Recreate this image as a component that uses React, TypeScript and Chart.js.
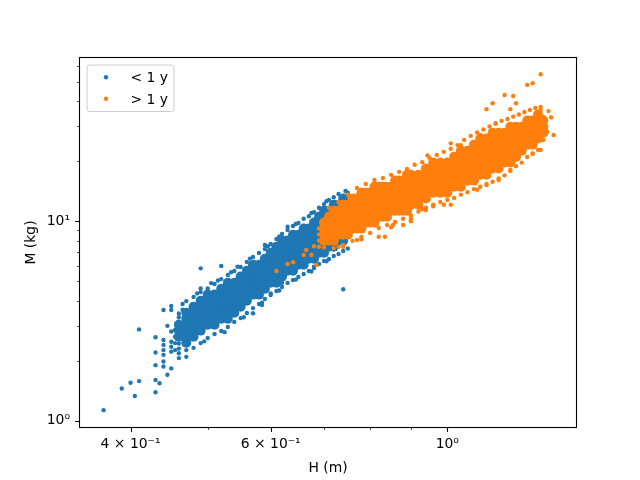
import React, { useEffect, useRef } from "react";
import { Chart, registerables } from "chart.js";

Chart.register(...registerables);

const FONT = "'DejaVu Sans', sans-serif";
const BLUE = "#1f77b4";
const ORANGE = "#ff7f0e";

const seriesLabels = ["< 1 y", "> 1 y"];
const seriesColors = [BLUE, ORANGE];

const xTitle = "H (m)";
const yTitle = "M (kg)";
const xTickValues = [0.4, 0.5, 0.6, 0.7, 0.8, 0.9, 1.0];
const xTickLabels = ["4 × 10⁻¹", "", "6 × 10⁻¹", "", "", "", "10⁰"];
const yTickValues = [1, 2, 3, 4, 5, 6, 7, 8, 9, 10, 20, 30, 40, 50, 60];
const yTickLabels = ["10⁰", "", "", "", "", "", "", "", "", "10¹", "", "", "", "", ""];
const xLimits = [0.3456, 1.451];
const yLimits = [0.93, 65.9];

// "< 1 y" — dense core, by height column: [H, [M, ...]]
const youngCoreCols: [number, number[]][] = [
  [0.46, [2.64, 2.83, 3.03]],
  [0.47, [2.46, 2.64, 2.83, 3.03, 3.25, 3.48]],
  [0.48, [2.64, 2.83, 3.03, 3.25, 3.48, 3.73]],
  [0.49, [2.83, 3.03, 3.25, 3.48, 3.73, 4.00]],
  [0.50, [3.03, 3.25, 3.48, 3.73, 4.00, 4.29]],
  [0.51, [3.03, 3.25, 3.48, 3.73, 4.00, 4.29]],
  [0.52, [3.25, 3.48, 3.73, 4.00, 4.29, 4.59]],
  [0.53, [3.25, 3.48, 3.73, 4.00, 4.29, 4.59, 4.92]],
  [0.54, [3.48, 3.73, 4.00, 4.29, 4.59, 4.92]],
  [0.55, [3.73, 4.00, 4.29, 4.59, 4.92, 5.28]],
  [0.56, [4.00, 4.29, 4.59, 4.92, 5.28, 5.65]],
  [0.57, [4.29, 4.59, 4.92, 5.28, 5.65, 6.06]],
  [0.58, [4.29, 4.59, 4.92, 5.28, 5.65, 6.06]],
  [0.59, [4.59, 4.92, 5.28, 5.65, 6.06, 6.49]],
  [0.60, [4.92, 5.28, 5.65, 6.06, 6.49, 6.96]],
  [0.61, [4.92, 5.28, 5.65, 6.06, 6.49, 6.96, 7.46]],
  [0.62, [5.28, 5.65, 6.06, 6.49, 6.96, 7.46, 8.00]],
  [0.63, [5.65, 6.06, 6.49, 6.96, 7.46, 8.00]],
  [0.64, [5.65, 6.06, 6.49, 6.96, 7.46, 8.00, 8.57]],
  [0.65, [6.06, 6.49, 6.96, 7.46, 8.00, 8.57]],
  [0.66, [6.06, 6.49, 6.96, 7.46, 8.00, 8.57, 9.19]],
  [0.67, [6.49, 6.96, 7.46, 8.00, 8.57, 9.19]],
  [0.68, [6.49, 6.96, 7.46, 8.00, 8.57, 9.19, 9.85]],
  [0.69, [6.96, 7.46, 8.00, 8.57, 9.19, 9.85, 10.55]],
  [0.70, [6.96, 7.46, 8.00, 8.57, 9.19, 9.85, 10.55, 11.3]],
  [0.71, [7.46, 8.00, 8.57, 9.19, 9.85, 10.55, 11.3]],
  [0.72, [7.46, 8.00, 8.57, 9.19, 9.85, 10.55, 11.3, 12.1]],
  [0.73, [8.00, 8.57, 9.19, 9.85, 10.55, 11.3, 12.1]],
  [0.74, [8.00, 8.57, 9.19, 9.85, 10.55, 11.3, 12.1, 13.0]],
  [0.75, [10.55, 11.3, 12.1, 13.0]],
];

// "< 1 y" — sparse points: tail, band edges and outliers [H, M]
const youngSparse: number[][] = [
  [0.37, 1.13], [0.39, 1.45], [0.40, 1.55], [0.405, 1.33], [0.41, 1.58], [0.41, 2.87],
  [0.43, 2.62], [0.43, 2.20], [0.43, 1.90], [0.43, 1.60], [0.43, 1.39], [0.435, 1.54],
  [0.44, 3.59], [0.45, 3.76], [0.45, 3.59], [0.445, 2.99],
  [0.44, 2.54], [0.44, 2.40], [0.44, 2.26], [0.44, 2.14], [0.44, 1.98], [0.44, 1.87],
  [0.445, 1.70], [0.45, 2.80], [0.45, 2.49], [0.45, 2.35], [0.45, 2.22], [0.45, 1.83],
  [0.455, 2.85], [0.455, 2.64], [0.455, 2.45], [0.455, 2.26],
  [0.46, 3.14], [0.46, 3.30], [0.46, 3.45], [0.46, 2.44], [0.46, 2.30], [0.46, 2.18],
  [0.46, 2.06], [0.465, 3.85], [0.465, 3.60], [0.47, 2.26], [0.47, 2.09],
  [0.49, 5.81], [0.52, 5.97], [0.49, 4.61], [0.74, 4.56], [0.57, 3.46], [0.585, 3.91],
  [0.60, 4.35], [0.63, 9.40], [0.59, 7.60], [0.545, 5.92], [0.62, 4.92], [0.68, 5.92],
  [0.47, 3.98], [0.48, 4.17], [0.49, 4.42], [0.50, 4.60], [0.505, 4.90], [0.51, 4.85],
  [0.52, 5.13], [0.53, 5.38], [0.54, 5.63], [0.55, 5.90], [0.56, 6.25], [0.57, 6.62],
  [0.58, 6.93], [0.59, 7.26], [0.60, 7.69], [0.61, 8.15], [0.62, 8.63], [0.63, 9.04],
  [0.64, 9.47], [0.65, 9.80], [0.66, 10.3], [0.67, 10.6], [0.68, 11.1], [0.69, 11.7],
  [0.70, 12.2], [0.71, 12.8], [0.72, 13.2], [0.73, 13.7], [0.745, 14.2], [0.75, 13.9],
  [0.76, 13.2],
  [0.485, 4.35], [0.515, 5.05], [0.535, 5.55], [0.565, 6.5], [0.595, 7.5], [0.615, 8.4],
  [0.645, 9.7], [0.675, 11.0], [0.705, 12.6],
  [0.48, 2.32], [0.49, 2.45], [0.50, 2.60], [0.51, 2.72], [0.52, 2.82], [0.53, 2.95],
  [0.54, 3.13], [0.55, 3.27], [0.56, 3.47], [0.57, 3.67], [0.58, 3.85], [0.59, 4.08],
  [0.60, 4.27], [0.61, 4.47], [0.62, 4.68], [0.63, 4.91], [0.64, 5.08], [0.65, 5.26],
  [0.66, 5.44], [0.67, 5.63], [0.68, 5.83], [0.69, 6.11], [0.70, 6.32], [0.71, 6.47],
  [0.72, 6.70], [0.73, 6.86], [0.74, 7.10], [0.75, 7.30],
  [0.495, 2.50], [0.525, 2.78], [0.555, 3.30], [0.585, 3.80], [0.615, 4.50], [0.645, 5.10],
  [0.675, 5.60], [0.705, 6.30],
];

// "> 1 y" — dense core, by height column: [H, [M, ...]]
const oldCoreCols: [number, number[]][] = [
  [0.70, [8.00, 8.57, 9.19, 9.85]],
  [0.71, [8.00, 8.57, 9.19, 9.85, 10.55]],
  [0.72, [8.00, 8.57, 9.19, 9.85, 10.55, 11.3]],
  [0.73, [8.57, 9.19, 9.85, 10.55, 11.3]],
  [0.74, [8.57, 9.19, 9.85, 10.55, 11.3, 12.1]],
  [0.75, [8.57, 9.19, 9.85, 10.55, 11.3, 12.1]],
  [0.76, [9.19, 9.85, 10.55, 11.3, 12.1, 13.0]],
  [0.77, [9.19, 9.85, 10.55, 11.3, 12.1, 13.0]],
  [0.78, [9.19, 9.85, 10.55, 11.3, 12.1, 13.0, 13.9]],
  [0.79, [9.85, 10.55, 11.3, 12.1, 13.0, 13.9]],
  [0.80, [9.85, 10.55, 11.3, 12.1, 13.0, 13.9]],
  [0.81, [9.85, 10.55, 11.3, 12.1, 13.0, 13.9, 14.9]],
  [0.82, [10.55, 11.3, 12.1, 13.0, 13.9, 14.9]],
  [0.83, [10.55, 11.3, 12.1, 13.0, 13.9, 14.9]],
  [0.84, [10.55, 11.3, 12.1, 13.0, 13.9, 14.9]],
  [0.85, [11.3, 12.1, 13.0, 13.9, 14.9]],
  [0.86, [11.3, 12.1, 13.0, 13.9, 14.9, 16.0]],
  [0.87, [11.3, 12.1, 13.0, 13.9, 14.9, 16.0]],
  [0.88, [11.3, 12.1, 13.0, 13.9, 14.9, 16.0]],
  [0.89, [11.3, 12.1, 13.0, 13.9, 14.9, 16.0, 17.1]],
  [0.90, [12.1, 13.0, 13.9, 14.9, 16.0, 17.1]],
  [0.92, [12.1, 13.0, 13.9, 14.9, 16.0, 17.1]],
  [0.94, [13.0, 13.9, 14.9, 16.0, 17.1, 18.4]],
  [0.96, [13.9, 14.9, 16.0, 17.1, 18.4, 19.7]],
  [0.98, [13.9, 14.9, 16.0, 17.1, 18.4, 19.7]],
  [1.00, [13.9, 14.9, 16.0, 17.1, 18.4, 19.7]],
  [1.02, [14.9, 16.0, 17.1, 18.4, 19.7, 21.1]],
  [1.04, [14.9, 16.0, 17.1, 18.4, 19.7, 21.1, 22.6]],
  [1.06, [16.0, 17.1, 18.4, 19.7, 21.1, 22.6]],
  [1.08, [16.0, 17.1, 18.4, 19.7, 21.1, 22.6, 24.2]],
  [1.10, [17.1, 18.4, 19.7, 21.1, 22.6, 24.2, 26.0]],
  [1.12, [17.1, 18.4, 19.7, 21.1, 22.6, 24.2, 26.0]],
  [1.14, [18.4, 19.7, 21.1, 22.6, 24.2, 26.0, 27.8]],
  [1.16, [18.4, 19.7, 21.1, 22.6, 24.2, 26.0, 27.8]],
  [1.18, [19.7, 21.1, 22.6, 24.2, 26.0, 27.8]],
  [1.20, [19.7, 21.1, 22.6, 24.2, 26.0, 27.8, 29.8]],
  [1.22, [21.1, 22.6, 24.2, 26.0, 27.8, 29.8]],
  [1.24, [22.6, 24.2, 26.0, 27.8, 29.8]],
  [1.26, [24.2, 26.0, 27.8, 29.8, 32.0]],
  [1.28, [24.2, 26.0, 27.8, 29.8, 32.0]],
  [1.30, [26.0, 27.8, 29.8, 32.0, 34.3]],
  [1.32, [27.8, 29.8, 32.0]],
];

// "> 1 y" — sparse points: band edges and outliers [H, M]
const oldSparse: number[][] = [
  [0.71, 11.7], [0.73, 12.5], [0.75, 13.6], [0.77, 14.7], [0.79, 15.4], [0.81, 16.1],
  [0.83, 16.5], [0.85, 17.1], [0.87, 17.7], [0.89, 18.3], [0.91, 19.2], [0.93, 19.8],
  [0.95, 20.8], [0.97, 21.5], [0.99, 22.3], [1.01, 23.1], [1.03, 24.1], [1.05, 25.6],
  [1.07, 26.8], [1.09, 27.9], [1.11, 28.9], [1.13, 29.9], [1.15, 30.8], [1.17, 31.9],
  [1.19, 32.6], [1.21, 33.5], [1.23, 34.3], [1.25, 35.3], [1.27, 36.2], [1.29, 37.0],
  [1.31, 37.4],
  [1.31, 36.2], [1.34, 35.7], [1.35, 33.2], [1.33, 29.8], [1.36, 27.1], [1.335, 28.1],
  [1.32, 25.6], [1.31, 22.8], [1.28, 21.9], [1.33, 32.2], [1.32, 33.4],
  [1.31, 54.6], [1.26, 48.3], [1.28, 49.2], [1.18, 43.0], [1.21, 42.5], [1.14, 39.1],
  [1.22, 39.1], [1.12, 36.5], [1.20, 36.5], [1.01, 24.6], [0.944, 21.4], [0.81, 15.5],
  [1.04, 24.1], [1.10, 27.1], [1.15, 31.0],
  [0.72, 7.35], [0.74, 7.61], [0.76, 7.98], [0.78, 8.34], [0.80, 8.74], [0.82, 9.26],
  [0.84, 9.58], [0.86, 9.92], [0.88, 10.3], [0.90, 10.7], [0.92, 11.2], [0.94, 11.7],
  [0.96, 12.1], [0.98, 12.5], [1.00, 12.8], [1.02, 13.1], [1.04, 13.6], [1.06, 14.0],
  [1.08, 14.5], [1.10, 14.9], [1.12, 15.4], [1.14, 15.8], [1.16, 16.4], [1.18, 17.0],
  [1.20, 17.9], [1.22, 18.9], [1.24, 19.7], [1.26, 21.0], [1.28, 21.8], [1.30, 22.8],
  [0.94, 11.4], [0.99, 12.1], [1.01, 12.1], [0.90, 10.2], [0.88, 9.58], [0.85, 9.33],
  [0.835, 8.37], [0.82, 8.37], [0.78, 8.12], [0.74, 7.46], [0.855, 9.6], [0.90, 10.0],
  [0.90, 10.4], [0.96, 11.9], [0.93, 11.5], [1.09, 14.4], [1.12, 15.2], [1.16, 16.1],
  [1.20, 18.1], [0.77, 8.06], [0.73, 7.46],
  [0.66, 6.78], [0.665, 7.18], [0.675, 6.78], [0.61, 5.63], [0.63, 6.11], [0.64, 6.23],
  [0.685, 6.04], [0.69, 7.46], [0.69, 8.0], [0.69, 8.6], [0.69, 9.2], [0.68, 7.5], [0.70, 7.4],
];

const colPoints = (cols: [number, number[]][]) =>
  cols.flatMap(([h, ms]) => ms.map((m) => ({ x: h, y: m })));
const pairPoints = (pairs: number[][]) => pairs.map(([h, m]) => ({ x: h, y: m }));

const CORE_R = 5;
const DOT_R = 2.2;
const FS = 13.9;

const framePlugin = {
  id: "mplFrame",
  afterDraw(chart: any) {
    const { ctx, chartArea, scales } = chart;
    const { left, right, top, bottom } = chartArea;
    ctx.save();
    ctx.strokeStyle = "#000";
    scales.x.ticks.forEach((t: any, i: number) => {
      const px = Math.round(scales.x.getPixelForValue(t.value)) + 0.5;
      const major = xTickLabels[i] !== "";
      ctx.lineWidth = major ? 1.1 : 0.8;
      ctx.beginPath();
      ctx.moveTo(px, bottom);
      ctx.lineTo(px, bottom + (major ? 4.9 : 2.8));
      ctx.stroke();
    });
    scales.y.ticks.forEach((t: any, i: number) => {
      const py = Math.round(scales.y.getPixelForValue(t.value)) + 0.5;
      const major = yTickLabels[i] !== "";
      ctx.lineWidth = major ? 1.1 : 0.8;
      ctx.beginPath();
      ctx.moveTo(left, py);
      ctx.lineTo(left - (major ? 4.9 : 2.8), py);
      ctx.stroke();
    });
    ctx.lineWidth = 1.1;
    ctx.strokeRect(Math.round(left) - 0.5, Math.round(top) - 0.5, Math.round(right - left) + 1, Math.round(bottom - top) + 1);

    // legend (upper left, matplotlib style)
    const bx = left + 7, by = top + 7, bw = 87, bh = 46.5, r = 2.8;
    ctx.beginPath();
    ctx.moveTo(bx + r, by);
    ctx.lineTo(bx + bw - r, by);
    ctx.arcTo(bx + bw, by, bx + bw, by + r, r);
    ctx.lineTo(bx + bw, by + bh - r);
    ctx.arcTo(bx + bw, by + bh, bx + bw - r, by + bh, r);
    ctx.lineTo(bx + r, by + bh);
    ctx.arcTo(bx, by + bh, bx, by + bh - r, r);
    ctx.lineTo(bx, by + r);
    ctx.arcTo(bx, by, bx + r, by, r);
    ctx.closePath();
    ctx.fillStyle = "rgba(255,255,255,0.8)";
    ctx.fill();
    ctx.strokeStyle = "#cccccc";
    ctx.lineWidth = 1;
    ctx.stroke();
    ctx.font = `${FS}px ${FONT}`;
    ctx.textBaseline = "alphabetic";
    ctx.textAlign = "left";
    seriesLabels.forEach((lab, i) => {
      const cy = by + 12.2 + i * 21.6;
      ctx.fillStyle = seriesColors[i];
      ctx.beginPath();
      ctx.arc(bx + 19, cy, DOT_R, 0, Math.PI * 2);
      ctx.fill();
      ctx.fillStyle = "#000";
      ctx.fillText(lab, bx + 43.5, cy + 5);
    });
    ctx.restore();
  },
};

export default function App() {
  const ref = useRef<HTMLCanvasElement>(null);
  useEffect(() => {
    const canvas = ref.current;
    if (!canvas) return;
    const tickFont = { family: FONT, size: FS };
    const chart = new Chart(canvas, {
      type: "scatter",
      data: {
        datasets: [
          { label: seriesLabels[1], data: colPoints(oldCoreCols), backgroundColor: ORANGE, pointRadius: CORE_R, pointBorderWidth: 0, order: 1 },
          { label: seriesLabels[1], data: pairPoints(oldSparse), backgroundColor: ORANGE, pointRadius: DOT_R, pointBorderWidth: 0, order: 1 },
          { label: seriesLabels[0], data: colPoints(youngCoreCols), backgroundColor: BLUE, pointRadius: CORE_R, pointBorderWidth: 0, order: 2 },
          { label: seriesLabels[0], data: pairPoints(youngSparse), backgroundColor: BLUE, pointRadius: DOT_R, pointBorderWidth: 0, order: 2 },
        ],
      },
      options: {
        animation: false,
        responsive: false,
        devicePixelRatio: 1,
        events: [],
        layout: { padding: { top: 58, right: 64, bottom: 0, left: 0 } },
        plugins: { legend: { display: false }, tooltip: { enabled: false } },
        scales: {
          x: {
            type: "logarithmic",
            position: "bottom",
            bounds: "data",
            min: xLimits[0],
            max: xLimits[1],
            afterBuildTicks: (s: any) => {
              s.ticks = xTickValues.map((v) => ({ value: v }));
              s.min = xLimits[0];
              s.max = xLimits[1];
            },
            afterFit: (s: any) => {
              s.height = 53;
            },
            grid: { display: true, drawOnChartArea: false, drawTicks: true, tickLength: 5, color: "rgba(0,0,0,0)", tickColor: "rgba(0,0,0,0)" },
            border: { display: false },
            ticks: {
              autoSkip: false,
              maxRotation: 0,
              minRotation: 0,
              padding: 4,
              color: "#000",
              font: tickFont,
              callback: (_v: any, i: number) => xTickLabels[i] ?? "",
            },
            title: { display: true, text: xTitle, color: "#000", font: tickFont, padding: { top: 0, bottom: 3 } },
          },
          y: {
            type: "logarithmic",
            position: "left",
            bounds: "data",
            min: yLimits[0],
            max: yLimits[1],
            afterBuildTicks: (s: any) => {
              s.ticks = yTickValues.map((v) => ({ value: v }));
              s.min = yLimits[0];
              s.max = yLimits[1];
            },
            afterFit: (s: any) => {
              s.width = 80;
            },
            grid: { display: true, drawOnChartArea: false, drawTicks: true, tickLength: 5, color: "rgba(0,0,0,0)", tickColor: "rgba(0,0,0,0)" },
            border: { display: false },
            ticks: {
              autoSkip: false,
              padding: 5,
              color: "#000",
              font: tickFont,
              callback: (_v: any, i: number) => yTickLabels[i] ?? "",
            },
            title: { display: true, text: yTitle, color: "#000", font: tickFont, padding: { top: 23.5, bottom: 0 } },
          },
        },
      },
      plugins: [framePlugin],
    } as any);
    return () => chart.destroy();
  }, []);
  return (
    <div style={{ position: "absolute", left: 0, top: 0, width: 640, height: 480, background: "#fff" }}>
      <canvas ref={ref} width={640} height={480} style={{ display: "block", width: 640, height: 480 }} />
    </div>
  );
}
